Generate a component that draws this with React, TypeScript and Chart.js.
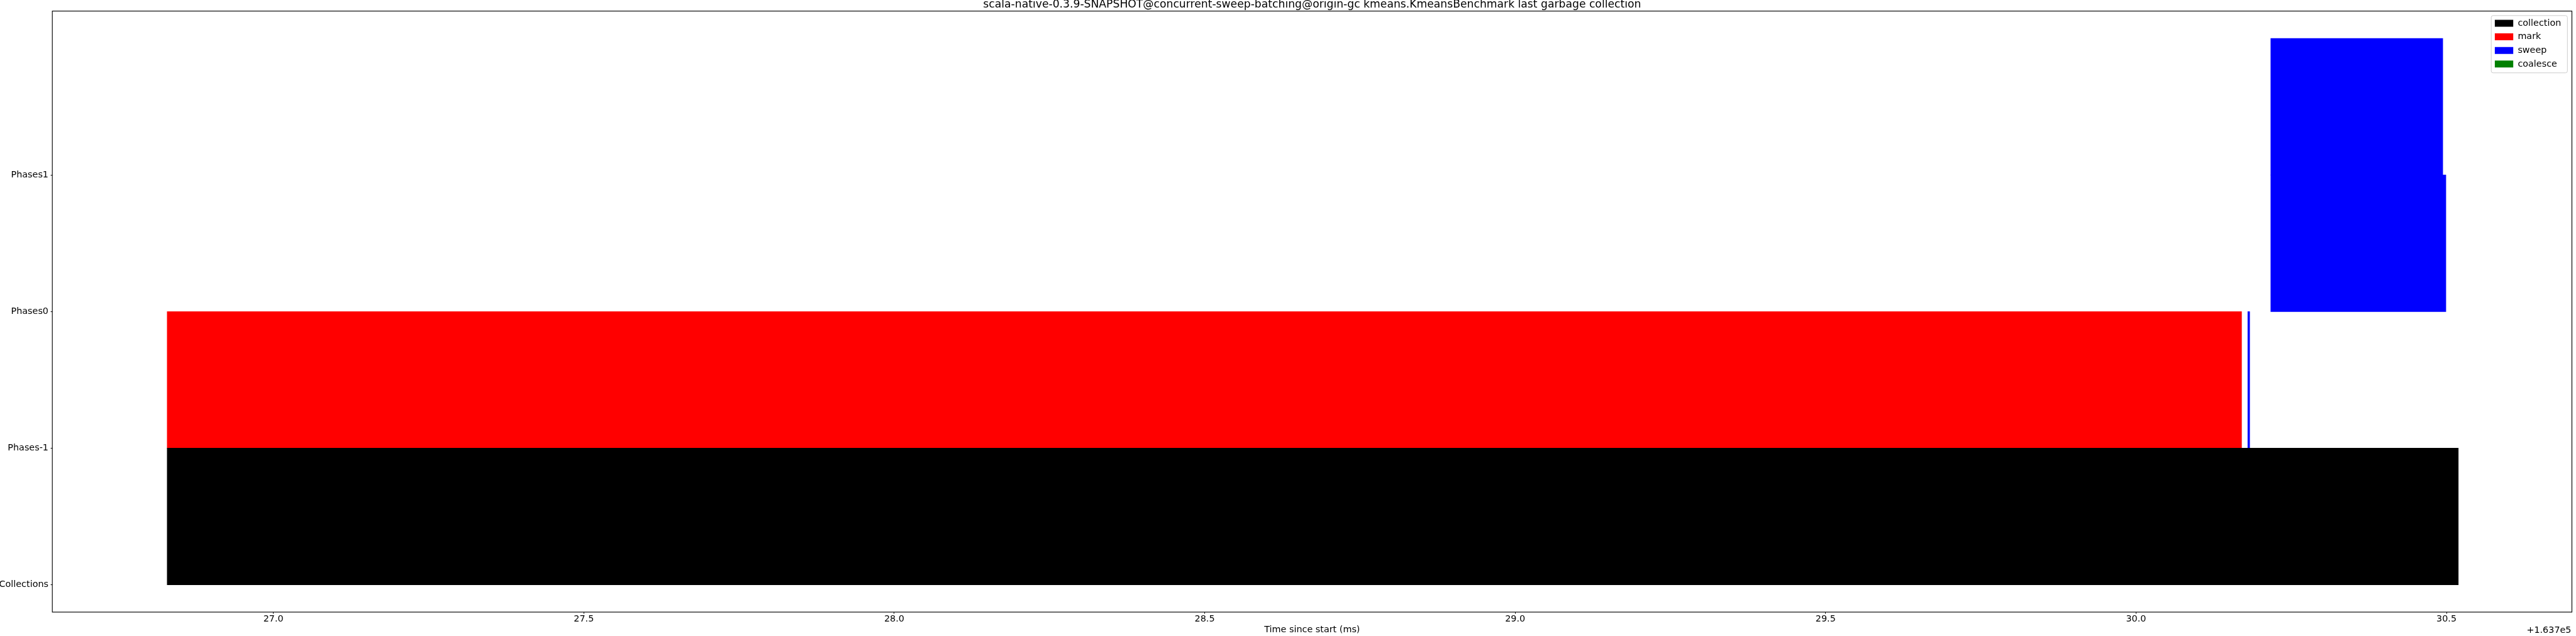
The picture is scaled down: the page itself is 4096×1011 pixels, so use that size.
import React, { useEffect, useRef } from 'react';
import { Chart, registerables } from 'chart.js';

Chart.register(...registerables);

// ---------- data ----------
const TITLE =
  'scala-native-0.3.9-SNAPSHOT@concurrent-sweep-batching@origin-gc kmeans.KmeansBenchmark last garbage collection';
const X_LABEL = 'Time since start (ms)';
const X_OFFSET_LABEL = '+1.637e5';

const ROW_LABELS = ['Collections', 'Phases-1', 'Phases0', 'Phases1'];
const X_TICKS = [27.0, 27.5, 28.0, 28.5, 29.0, 29.5, 30.0, 30.5];
const X_MIN = 26.644;
const X_MAX = 30.702;
const Y_MIN = -0.2;
const Y_MAX = 4.2;

const SERIES_NAMES = ['collection', 'mark', 'sweep', 'coalesce'];
const SERIES_COLORS = ['#000000', '#ff0000', '#0000ff', '#008000'];

// row index (into ROW_LABELS), start and end in ms (relative to +1.637e5)
const COLLECTION_ROWS = [0];
const COLLECTION_START = [26.829];
const COLLECTION_END = [30.519];

const MARK_ROWS = [1];
const MARK_START = [26.829];
const MARK_END = [30.17];

const SWEEP_ROWS = [1, 2, 3];
const SWEEP_START = [30.18, 30.217, 30.217];
const SWEEP_END = [30.183, 30.499, 30.494];

const COALESCE_ROWS: number[] = [];
const COALESCE_START: number[] = [];
const COALESCE_END: number[] = [];

// ---------- styles ----------
const FAMILY = "'DejaVu Sans', sans-serif";
const TICK_SIZE = 14.36;
const TITLE_SIZE = 17.2;

const decorPlugin = {
  id: 'decor',
  afterLayout(chart: any) {
    const lg = chart.legend;
    const ca = chart.chartArea;
    if (!lg || !ca) return;
    const ctx = chart.ctx;
    ctx.save();
    ctx.font = `${TICK_SIZE}px ${FAMILY}`;
    let maxText = 0;
    SERIES_NAMES.forEach((n) => {
      maxText = Math.max(maxText, ctx.measureText(n).width);
    });
    ctx.restore();
    const w = 5.7 + 29.3 + 11.5 + maxText + 5.7;
    const frameRight = ca.right - 7.2;
    const frameTop = ca.top + 7.2;
    const frameLeft = frameRight - w;
    chart.$legendFrame = { left: frameLeft, top: frameTop, width: w, height: 91 };
    lg.left = frameLeft + 5.7 - 7.3;
    lg.top = frameTop + 6.6 - 1.68 - 7.3;
    lg.width = w + 30;
    lg.height = 140;
    lg.right = lg.left + lg.width;
    lg.bottom = lg.top + lg.height;
  },
  beforeDraw(chart: any) {
    const f = chart.$legendFrame;
    if (!f) return;
    const ctx = chart.ctx;
    ctx.save();
    const r = 2.9;
    ctx.beginPath();
    ctx.moveTo(f.left + r, f.top);
    ctx.lineTo(f.left + f.width - r, f.top);
    ctx.arcTo(f.left + f.width, f.top, f.left + f.width, f.top + r, r);
    ctx.lineTo(f.left + f.width, f.top + f.height - r);
    ctx.arcTo(f.left + f.width, f.top + f.height, f.left + f.width - r, f.top + f.height, r);
    ctx.lineTo(f.left + r, f.top + f.height);
    ctx.arcTo(f.left, f.top + f.height, f.left, f.top + f.height - r, r);
    ctx.lineTo(f.left, f.top + r);
    ctx.arcTo(f.left, f.top, f.left + r, f.top, r);
    ctx.closePath();
    ctx.fillStyle = 'rgba(255,255,255,0.8)';
    ctx.fill();
    ctx.strokeStyle = '#cccccc';
    ctx.lineWidth = 1;
    ctx.stroke();
    ctx.restore();
  },
  afterDatasetsDraw(chart: any) {
    const ca = chart.chartArea;
    const ctx = chart.ctx;
    ctx.save();
    ctx.strokeStyle = '#000000';
    ctx.lineWidth = 1.15;
    ctx.strokeRect(ca.left, ca.top, ca.right - ca.left, ca.bottom - ca.top);
    ctx.fillStyle = '#000000';
    ctx.font = `${TICK_SIZE}px ${FAMILY}`;
    ctx.textAlign = 'right';
    ctx.textBaseline = 'alphabetic';
    ctx.fillText(X_OFFSET_LABEL, ca.right - 1, ca.bottom + 32.6);
    ctx.restore();
  },
};

function toBars(rows: number[], starts: number[], ends: number[]) {
  // bars span [row, row + 1] (edge-aligned horizontal bars)
  return rows.map((r, i) => ({ x: [starts[i], ends[i]], y: r + 0.5 }));
}

export default function App() {
  const ref = useRef<HTMLCanvasElement>(null);

  useEffect(() => {
    const canvas = ref.current;
    if (!canvas) return;

    const seriesData = [
      toBars(COLLECTION_ROWS, COLLECTION_START, COLLECTION_END),
      toBars(MARK_ROWS, MARK_START, MARK_END),
      toBars(SWEEP_ROWS, SWEEP_START, SWEEP_END),
      toBars(COALESCE_ROWS, COALESCE_START, COALESCE_END),
    ];

    const datasets = SERIES_NAMES.map((name, i) => ({
      label: name,
      data: seriesData[i],
      backgroundColor: SERIES_COLORS[i],
      borderColor: SERIES_COLORS[i],
      borderWidth: 0,
      borderSkipped: false,
      grouped: false,
      barPercentage: 1,
      categoryPercentage: 1,
    }));

    const tickFont = { family: FAMILY, size: TICK_SIZE, lineHeight: 1.2 };

    const chart = new Chart(canvas, {
      type: 'bar',
      data: { datasets } as any,
      plugins: [decorPlugin],
      options: {
        indexAxis: 'y',
        animation: false,
        responsive: false,
        devicePixelRatio: 1,
        layout: { padding: { top: 0, right: 6.5, bottom: 0, left: 0 } },
        scales: {
          x: {
            type: 'linear',
            min: X_MIN,
            max: X_MAX,
            bounds: 'data',
            offset: false,
            afterBuildTicks: (scale: any) => {
              scale.ticks = X_TICKS.map((v) => ({ value: v }));
            },
            afterFit: (scale: any) => {
              scale.height = 38;
            },
            ticks: {
              callback: (v: any) => Number(v).toFixed(1),
              font: tickFont,
              color: '#000000',
              padding: 0,
              maxRotation: 0,
              autoSkip: false,
            },
            grid: {
              display: true,
              offset: false,
              drawOnChartArea: false,
              drawTicks: true,
              tickLength: 2.6,
              color: '#000000',
              lineWidth: 1,
            },
            border: { display: false },
            title: {
              display: true,
              text: X_LABEL,
              color: '#000000',
              font: { family: FAMILY, size: TICK_SIZE, lineHeight: 1.2 },
              padding: { top: 0, bottom: 1.3 },
            },
          },
          y: {
            type: 'linear',
            min: Y_MIN,
            max: Y_MAX,
            bounds: 'data',
            offset: false,
            afterBuildTicks: (scale: any) => {
              scale.ticks = ROW_LABELS.map((_, i) => ({ value: i }));
            },
            afterFit: (scale: any) => {
              scale.width = 83.2;
            },
            ticks: {
              callback: (v: any) => ROW_LABELS[Number(v)] ?? '',
              font: tickFont,
              color: '#000000',
              padding: 3.6,
              autoSkip: false,
            },
            grid: {
              display: true,
              offset: false,
              drawOnChartArea: false,
              drawTicks: true,
              tickLength: 2.6,
              color: '#000000',
              lineWidth: 1,
            },
            border: { display: false },
          },
        },
        plugins: {
          title: {
            display: true,
            text: TITLE,
            fullSize: false,
            color: '#000000',
            font: { family: FAMILY, size: TITLE_SIZE, weight: 'normal', lineHeight: 0.86 },
            padding: { top: 0, bottom: 2.8 },
          },
          legend: {
            display: true,
            position: 'chartArea',
            align: 'start',
            labels: {
              boxWidth: 29.3,
              boxHeight: 11,
              padding: 7.3,
              color: '#000000',
              font: { family: FAMILY, size: TICK_SIZE },
            },
          },
          tooltip: { enabled: false },
        },
      } as any,
    });

    return () => chart.destroy();
  }, []);

  return (
    <div
      style={{
        position: 'absolute',
        left: 0,
        top: 0,
        width: 4096,
        height: 1011,
        background: '#ffffff',
      }}
    >
      <canvas
        ref={ref}
        width={4096}
        height={1011}
        style={{ display: 'block', width: 4096, height: 1011 }}
      />
    </div>
  );
}
